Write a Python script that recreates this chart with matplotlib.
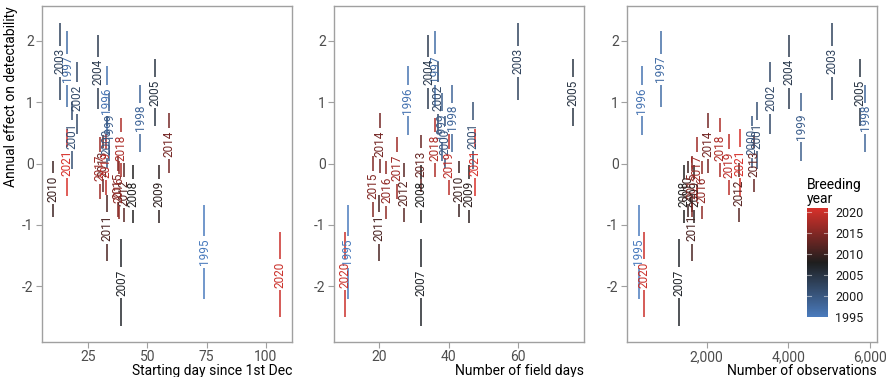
import matplotlib.pyplot as plt
import numpy as np
from matplotlib.colors import LinearSegmentedColormap, Normalize
from matplotlib.colorbar import ColorbarBase
from matplotlib.ticker import FuncFormatter
from matplotlib.textpath import TextPath
from matplotlib.font_manager import FontProperties

plt.rcParams['font.family'] = ['Roboto', 'DejaVu Sans']
plt.rcParams['axes.unicode_minus'] = False

years = [1995, 1996, 1997, 1998, 1999, 2000, 2001, 2002, 2003, 2004, 2005,
         2007, 2008, 2009, 2010, 2011, 2012, 2013, 2014, 2015, 2016, 2017,
         2018, 2019, 2020, 2021]
effect = [-1.44, 1.03, 1.54, 0.74, 0.60, 0.35, 0.46, 1.07, 1.67, 1.49, 1.16,
          -1.94, -0.50, -0.50, -0.41, -1.05, -0.47, 0.00, 0.33, -0.37, -0.43, -0.07,
          0.26, -0.02, -1.81, 0.02]
half_ci = [0.77, 0.57, 0.62, 0.55, 0.55, 0.42, 0.55, 0.58, 0.63, 0.60, 0.54,
           0.71, 0.47, 0.47, 0.46, 0.54, 0.48, 0.46, 0.49, 0.50, 0.48, 0.50,
           0.48, 0.50, 0.70, 0.55]
start_day = [74, 33, 16.2, 47, 34, 33, 18.3, 20.4, 13.3, 29.2, 53.1,
             39.1, 44.1, 55.0, 10.1, 33.0, 40.3, 31.5, 59.0, 37.5, 38.2, 30.2,
             39.0, 32.5, 106, 16.1]
field_days = [11, 28.2, 36.1, 41.1, 38.0, 39.0, 47.0, 37.0, 60.0, 34.2, 75.9,
              32.0, 32.0, 45.9, 43.1, 20.0, 27.2, 32.0, 20.2, 18.2, 22.1, 25.0,
              36.1, 40.1, 10.1, 47.5]
n_obs = [331, 407, 878, 5878, 4310, 3098, 3237, 3561, 5066, 4024, 5749,
         1332, 1439, 1700, 1550, 1641, 2788, 3160, 2032, 1650, 1895, 1763,
         2317, 2544, 470, 2815]

cmap = LinearSegmentedColormap.from_list(
    'breeding', [(0, '#4a7bbd'), (13 / 26, '#1e1e1e'), (1, '#d7302a')])
norm = Normalize(1995, 2021)

effect = np.array(effect)
half_ci = np.array(half_ci)

label_size = 8.5
ylim = (-2.91, 2.57)
ax_h_px = 0.8912 * 377
px_per_unit = ax_h_px / (ylim[1] - ylim[0])
# half-gap in the line around each label, like a text segment
txt_w = TextPath((0, 0), '2000', size=label_size,
                 prop=FontProperties(family='Roboto')).get_extents().width * 100 / 72
gap = (txt_w / 2 + 3) / px_per_unit

fig = plt.figure(figsize=(8.86, 3.77), dpi=100)

panels = [
    (start_day, 'Starting day since 1st Dec', (5.6, 111), [25, 50, 75, 100], 0.0474),
    (field_days, 'Number of field days', (7, 79), [20, 40, 60], 0.377),
    (n_obs, 'Number of observations', (49, 6171), [2000, 4000, 6000], 0.7077),
]

for i, (xs, xlabel, xlim, xticks, left) in enumerate(panels):
    ax = fig.add_axes([left, 0.0928, 0.2822, 0.8912])
    for x, y, h, yr in zip(xs, effect, half_ci, years):
        c = cmap(norm(yr))
        ax.plot([x, x], [y - h, y - gap], color=c, lw=1.1, solid_capstyle='butt')
        ax.plot([x, x], [y + gap, y + h], color=c, lw=1.1, solid_capstyle='butt')
        ax.text(x, y, str(yr), rotation=90, ha='center', va='center', color=c,
                fontsize=label_size)
    ax.set_xlim(*xlim)
    ax.set_ylim(*ylim)
    ax.set_xticks(xticks)
    ax.set_yticks([-2, -1, 0, 1, 2])
    for s in ax.spines.values():
        s.set_color('#a0a0a0')
        s.set_linewidth(1.0)
    ax.tick_params(colors='#a0a0a0', labelcolor='#4d4d4d', labelsize=10,
                   length=4, width=0.8, pad=2)
    ax.set_xlabel(xlabel, fontsize=10, color='black', loc='right', labelpad=0)
    if i == 0:
        ax.set_ylabel('Annual effect on detectability', fontsize=10, color='black',
                      loc='top', labelpad=3)
    if i == 2:
        ax.xaxis.set_major_formatter(FuncFormatter(lambda v, p: f'{v:,.0f}'))
        # legend background
        ax.add_patch(plt.Rectangle((0.685, 0.05), 0.30, 0.46, transform=ax.transAxes,
                                   fc='white', ec='none', zorder=10))

fig.text(0.911, 0.528, 'Breeding\nyear', fontsize=10, va='top', ha='left',
         linespacing=1.0)
cax = fig.add_axes([0.911, 0.159, 0.0237, 0.289])
cb = ColorbarBase(cax, cmap=cmap, norm=norm, ticks=[1995, 2000, 2005, 2010, 2015, 2020])
cb.outline.set_visible(False)
cax.tick_params(length=0, labelsize=9, pad=5, labelcolor='#1a1a1a')
for t in [2000, 2005, 2010, 2015, 2020]:
    cax.plot([0, 0.2], [t, t], color='white', lw=0.8, alpha=0.5)
    cax.plot([0.8, 1], [t, t], color='white', lw=0.8, alpha=0.5)

fig.savefig('out.png', dpi=100)
